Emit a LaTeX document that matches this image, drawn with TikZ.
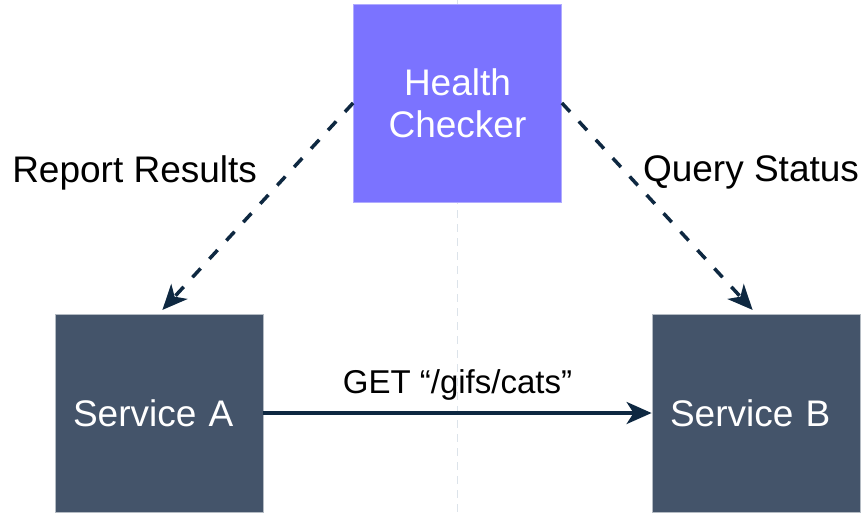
\documentclass[tikz,border=0pt]{standalone}
\usepackage{fontspec}
\setmainfont{Liberation Sans}
\usepackage{tikz}
\usetikzlibrary{positioning,arrows.meta}

\definecolor{checker}{HTML}{7B73FF}
\definecolor{service}{HTML}{44546A}
\definecolor{navy}{HTML}{0E2841}
\definecolor{guide}{HTML}{DCE3EA}

\begin{document}
\begin{tikzpicture}[x=1pt, y=-1pt,
  box/.style={minimum width=208pt, minimum height=198pt, inner sep=0pt, text=white, font=\fontsize{37}{42}\selectfont},
  checkbox/.style={box, fill=checker, draw=checker!60!white, line width=0.8pt, align=center},
  svcbox/.style={box, fill=service, draw=service!40!white, line width=0.8pt, text width=172pt, align=left},
  arr/.style={-{Stealth[length=25pt, width=22pt, inset=7pt]}, line width=3.5pt, navy},
  darr/.style={arr, dash pattern=on 12pt off 13pt, shorten >=5pt},
  lbl/.style={font=\fontsize{37}{42}\selectfont, text=black},
]
\useasboundingbox (0,0) rectangle (862,512);

% === Centre guide ===
\coordinate (gtop) at (457.5,0);
\coordinate (gbot) at (457.5,512);
\draw[guide, line width=1.5pt, dash pattern=on 8pt off 6pt] (gtop) -- (gbot);

% === Boxes ===
\node[checkbox] (hc) at (457.5,103) {Health\\Checker};
\node[svcbox] (sa) at (159,413) {Service A};
\node[svcbox] (sb) at (756,413) {Service B};

% === Arrows ===
\draw[darr] (hc.west) -- node[lbl, pos=0.33, anchor=east, xshift=-27pt] {Report Results} (sa.north);
\draw[darr] (hc.east) -- node[lbl, pos=0.33, anchor=west, xshift=12pt] {Query Status} (sb.north);
\draw[arr] (sa.east) -- node[above=8pt, font=\fontsize{33}{38}\selectfont, text=black] {GET “/gifs/cats”} (sb.west);

\end{tikzpicture}
\end{document}
